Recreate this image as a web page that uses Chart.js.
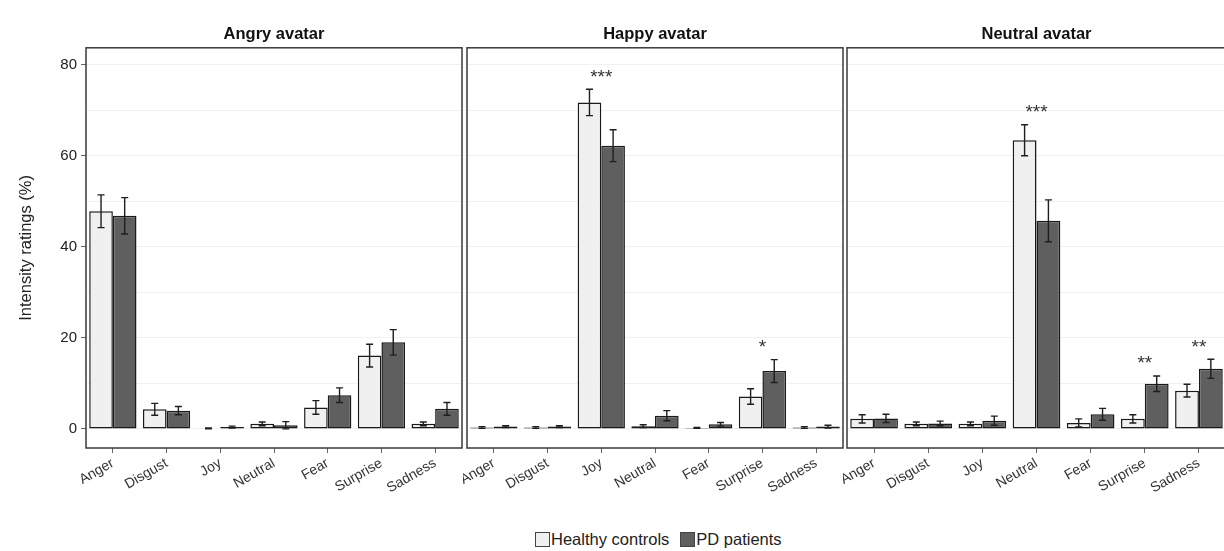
<!DOCTYPE html>
<html lang="en">
<head>
  <meta charset="UTF-8">
  <title>Intensity ratings by avatar</title>
  <script src="https://cdn.jsdelivr.net/npm/chart.js"></script>
  <style>
    body {
      margin: 0;
      width: 1224px;
      height: 551px;
      overflow: hidden;
      background: #fff;
      font-family: 'Liberation Sans', Arial, sans-serif;
      position: relative;
    }
    .panel {
      position: absolute;
      top: 0;
      height: 500px;
    }
    #legend {
      position: absolute;
      top: 530px;
      left: 535px;
      font-size: 16.5px;
      color: #222;
      display: flex;
      align-items: center;
      white-space: nowrap;
    }
    #legend span.box {
      display: inline-block;
      width: 15px;
      height: 15px;
      border: 1px solid #444;
      margin-right: 1px;
      box-sizing: border-box;
    }
  </style>
</head>
<body>

  <div class="panel" style="left:0;width:466px"><canvas id="p0" width="466" height="500"></canvas></div>
  <div class="panel" style="left:463px;width:384px"><canvas id="p1" width="384" height="500"></canvas></div>
  <div class="panel" style="left:843px;width:387px"><canvas id="p2" width="387" height="500"></canvas></div>

  <div id="legend">
    <span class="box" style="background:#f0f0f0"></span>Healthy controls<span class="box" style="background:#5f5f5f;margin-left:11px"></span>PD patients
  </div>

  <script>
    // data
    const categories = ['Anger', 'Disgust', 'Joy', 'Neutral', 'Fear', 'Surprise', 'Sadness'];
    const panelTitles = ['Angry avatar', 'Happy avatar', 'Neutral avatar'];
    const yTicks = [0, 20, 40, 60, 80];

    const healthyAngry    = [47.8, 4.3, 0.1, 1.1, 4.7, 16.1, 1.1];
    const healthyAngryErr = [3.6, 1.3, 0.1, 0.4, 1.5, 2.5, 0.4];
    const pdAngry         = [46.8, 4.0, 0.4, 0.8, 7.4, 19.0, 4.4];
    const pdAngryErr      = [4.0, 0.9, 0.2, 0.8, 1.6, 2.8, 1.4];
    const sigAngry        = ['', '', '', '', '', '', ''];

    const healthyHappy    = [0.3, 0.3, 71.7, 0.6, 0.2, 7.1, 0.3];
    const healthyHappyErr = [0.2, 0.2, 2.9, 0.3, 0.1, 1.7, 0.2];
    const pdHappy         = [0.5, 0.5, 62.2, 2.9, 1.0, 12.7, 0.5];
    const pdHappyErr      = [0.2, 0.2, 3.5, 1.1, 0.4, 2.5, 0.3];
    const sigHappy        = ['', '', '***', '', '', '*', ''];

    const healthyNeutral    = [2.2, 1.1, 1.1, 63.4, 1.3, 2.2, 8.4];
    const healthyNeutralErr = [0.9, 0.4, 0.4, 3.4, 0.9, 0.9, 1.4];
    const pdNeutral         = [2.3, 1.2, 1.8, 45.7, 3.2, 9.9, 13.2];
    const pdNeutralErr      = [0.9, 0.5, 1.0, 4.6, 1.3, 1.7, 2.1];
    const sigNeutral        = ['', '', '', '***', '', '**', '**'];

    const panels = [
      { hc: healthyAngry, hcErr: healthyAngryErr, pd: pdAngry, pdErr: pdAngryErr, sig: sigAngry },
      { hc: healthyHappy, hcErr: healthyHappyErr, pd: pdHappy, pdErr: pdHappyErr, sig: sigHappy },
      { hc: healthyNeutral, hcErr: healthyNeutralErr, pd: pdNeutral, pdErr: pdNeutralErr, sig: sigNeutral }
    ];

    const FONT = "'Liberation Sans', Arial, sans-serif";

    // box around the panel, error bars and significance stars
    const extras = {
      id: 'extras',
      afterDatasetsDraw(chart, args, opts) {
        const ctx = chart.ctx;
        const y = chart.scales.y;
        const errs = opts.errs;
        ctx.save();
        ctx.strokeStyle = '#1e1e1e';
        ctx.lineWidth = 1.4;
        chart.data.datasets.forEach((ds, di) => {
          const meta = chart.getDatasetMeta(di);
          meta.data.forEach((bar, i) => {
            const v = ds.data[i], e = errs[di][i];
            const top = y.getPixelForValue(v + e);
            const bot = y.getPixelForValue(Math.max(v - e, 0));
            ctx.beginPath();
            ctx.moveTo(bar.x, top); ctx.lineTo(bar.x, bot);
            ctx.moveTo(bar.x - 3.5, top); ctx.lineTo(bar.x + 3.5, top);
            ctx.moveTo(bar.x - 3.5, bot); ctx.lineTo(bar.x + 3.5, bot);
            ctx.stroke();
          });
        });

        // stars
        ctx.fillStyle = '#333';
        ctx.font = '19px ' + FONT;
        ctx.textAlign = 'center';
        ctx.textBaseline = 'middle';
        const x = chart.scales.x;
        opts.sig.forEach((s, i) => {
          if (!s) return;
          const d0 = chart.data.datasets[0].data[i] + errs[0][i];
          const d1 = chart.data.datasets[1].data[i] + errs[1][i];
          const py = y.getPixelForValue(Math.max(d0, d1) + 3.7);
          ctx.fillText(s, x.getPixelForValue(i), py + 5);
        });

        const a = chart.chartArea;
        ctx.strokeStyle = '#3a3a3a';
        ctx.lineWidth = 1.5;
        ctx.strokeRect(a.left, a.top, a.right - a.left, a.bottom - a.top);
        ctx.restore();
      }
    };

    panels.forEach((p, idx) => {
      const first = idx === 0;
      new Chart(document.getElementById('p' + idx), {
        type: 'bar',
        data: {
          labels: categories,
          datasets: [
            { label: 'Healthy controls', data: p.hc, backgroundColor: '#f0f0f0', borderColor: '#1a1a1a', borderWidth: 1.5, borderSkipped: false },
            { label: 'PD patients', data: p.pd, backgroundColor: '#5f5f5f', borderColor: '#1a1a1a', borderWidth: 1.5, borderSkipped: false }
          ]
        },
        options: {
          responsive: false,
          animation: false,
          layout: { padding: { left: first ? 0 : 4, right: 4, top: 0, bottom: 0 } },
          datasets: { bar: { categoryPercentage: 0.88, barPercentage: 1 } },
          plugins: {
            legend: { display: false },
            tooltip: { enabled: false },
            title: {
              display: true,
              text: panelTitles[idx],
              fullSize: false,
              color: '#111',
              font: { family: FONT, size: 16.5, weight: 'bold', lineHeight: 1.2 },
              padding: { top: 25, bottom: 3 }
            },
            extras: { errs: [p.hcErr, p.pdErr], sig: p.sig }
          },
          scales: {
            x: {
              offset: true,
              grid: { offset: false, drawOnChartArea: false, drawTicks: true, tickLength: 5, color: '#666' },
              border: { display: false },
              ticks: {
                autoSkip: false, minRotation: 30, maxRotation: 30, padding: 2,
                color: '#333', font: { family: FONT, size: 14 }
              },
              afterFit(s) { s.height = 52; s.paddingLeft = 0; s.paddingRight = 0; }
            },
            y: {
              min: -4.2,
              max: 83.7,
              afterBuildTicks(s) { s.ticks = [0, 10, 20, 30, 40, 50, 60, 70, 80].map(v => ({ value: v })); },
              border: { display: false },
              grid: {
                color: '#f1f1f1',
                drawTicks: first,
                tickLength: 5,
                tickColor: c => (c.tick && yTicks.includes(c.tick.value)) ? '#666' : 'rgba(0,0,0,0)'
              },
              ticks: {
                display: first,
                padding: 4,
                color: '#222',
                font: { family: FONT, size: 15 },
                callback: v => yTicks.includes(v) ? v : ''
              },
              title: {
                display: first,
                text: 'Intensity ratings (%)',
                color: '#222',
                font: { family: FONT, size: 16.5 },
                padding: { top: 17, bottom: 0 }
              },
              afterFit(s) { s.width = first ? 86 : 0; s.paddingTop = 0; s.paddingBottom = 0; }
            }
          }
        },
        plugins: [extras]
      });
    });
  </script>

</body>
</html>
